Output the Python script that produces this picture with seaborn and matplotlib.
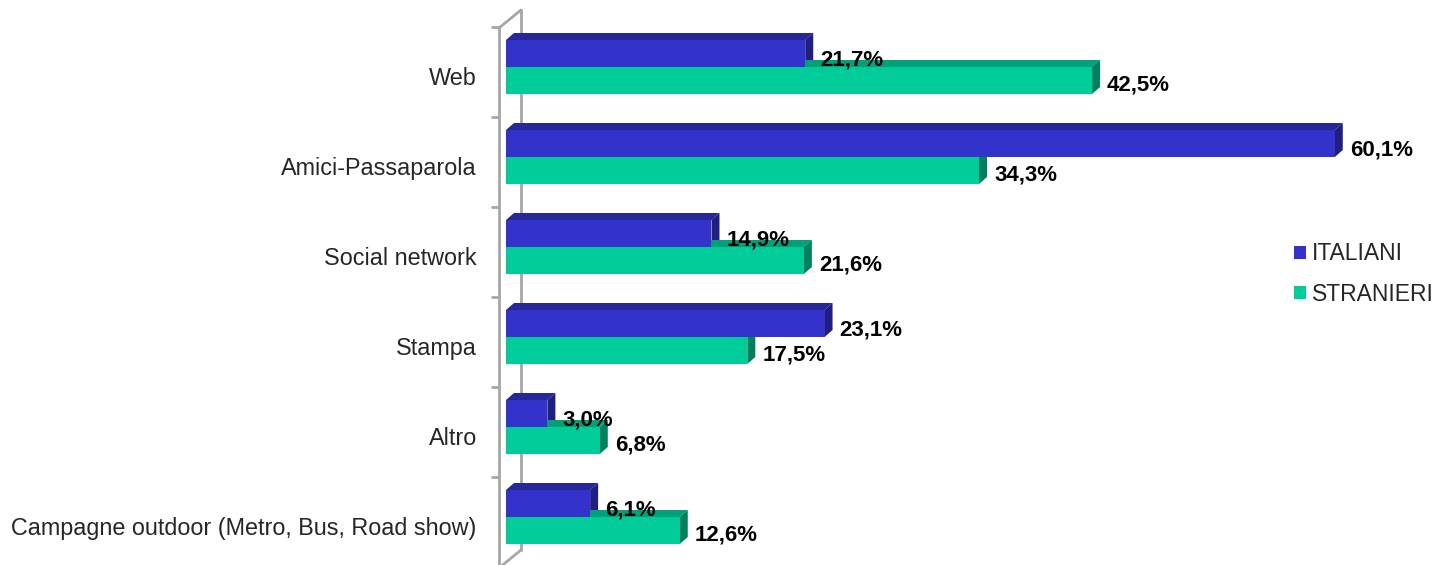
import numpy as np
import pandas as pd
import matplotlib
matplotlib.use("Agg")
import matplotlib.pyplot as plt
import matplotlib.transforms as mtransforms
from matplotlib.patches import Polygon, Patch
import seaborn as sns

# Data
categories = ["Web", "Amici-Passaparola", "Social network", "Stampa", "Altro",
              "Campagne outdoor (Metro, Bus, Road show)"]
groups = ["ITALIANI", "STRANIERI"]
italiani = [21.7, 60.1, 14.9, 23.1, 3.0, 6.1]
stranieri = [42.5, 34.3, 21.6, 17.5, 6.8, 12.6]

front_colors = ["#3333CC", "#00CC99"]
top_colors = ["#272799", "#00A07A"]
side_colors = ["#1F1F80", "#00805F"]

df = pd.DataFrame({
    "categoria": categories * 2,
    "gruppo": [groups[0]] * len(categories) + [groups[1]] * len(categories),
    "valore": italiani + stranieri,
})

sns.set_style("white")
plt.rcParams["font.family"] = ["Liberation Sans", "DejaVu Sans"]

W, H = 1438, 565
fig = plt.figure(figsize=(W / 100, H / 100), dpi=100)
ax = fig.add_axes([506 / W, 3 / H, (1420 - 506) / W, 540 / H])

sns.barplot(data=df, y="categoria", x="valore", hue="gruppo", orient="h",
            palette=front_colors, width=0.6, saturation=1, linewidth=0,
            legend=False, ax=ax)

ax.set_xlim(0, (1420 - 506) / 13.79)
ax.set_ylim(5.5, -0.5)

# pixel -> data helpers for the 3D depth
px_x = 1 / 13.79
px_y = 1 / 90.0
dx, dy = 8 * px_x, 7 * px_y

for i, cont in enumerate(ax.containers):
    for p in cont.patches:
        p.set_zorder(3)
        x0, y0, w, h = p.get_x(), p.get_y(), p.get_width(), p.get_height()
        top = Polygon([(x0, y0), (x0 + dx, y0 - dy), (x0 + w + dx, y0 - dy), (x0 + w, y0)],
                      closed=True, facecolor=top_colors[i], edgecolor="none", zorder=1)
        side = Polygon([(x0 + w, y0), (x0 + w + dx, y0 - dy), (x0 + w + dx, y0 + h - dy),
                        (x0 + w, y0 + h)],
                       closed=True, facecolor=side_colors[i], edgecolor="none", zorder=1)
        ax.add_patch(top)
        ax.add_patch(side)
        lab = f"{w:.1f}%".replace(".", ",")
        yoff = -4.5 if i == 0 else -3
        ax.annotate(lab, (x0 + w + dx, y0 + h / 2), xytext=(5, yoff),
                    textcoords="offset points", ha="left", va="center",
                    fontsize=16, fontweight="bold", color="black", zorder=5,
                    annotation_clip=False)

# 3D wall on the left
wall = "#A6A6A6"
fx, bx = -7 * px_x, 15 * px_x
ftop, btop = -0.5 + 6 * px_y, -0.5 - 12 * px_y
fbot, bbot = 5.5 + 6 * px_y, 5.5 - 12 * px_y
ax.plot([fx, fx], [ftop, fbot], color=wall, lw=2, clip_on=False, zorder=0)
ax.plot([bx, bx], [btop, bbot], color=wall, lw=2, clip_on=False, zorder=0)
ax.plot([fx, bx], [ftop, btop], color=wall, lw=2, clip_on=False, zorder=0)
ax.plot([fx, bx], [fbot, bbot], color=wall, lw=2, clip_on=False, zorder=0)
for k in range(len(categories)):
    yb = -0.5 + 5 * px_y + k
    ax.plot([fx - 7 * px_x, fx], [yb, yb], color=wall, lw=2, clip_on=False, zorder=0)

for s in ax.spines.values():
    s.set_visible(False)
ax.set_xticks([])
ax.set_xlabel("")
ax.set_ylabel("")
ax.tick_params(axis="y", length=0, pad=21, labelsize=16.8)
shift = mtransforms.ScaledTranslation(0, -9 / 100, fig.dpi_scale_trans)
for t in ax.get_yticklabels():
    t.set_transform(t.get_transform() + shift)

handles = [Patch(facecolor=c, edgecolor="none") for c in front_colors]
fig.legend(handles, groups, loc="center left",
           bbox_to_anchor=(1294 / W, 1 - 274 / H), frameon=False,
           fontsize=16.5, handlelength=0.52, handleheight=0.52,
           handletextpad=0.26, labelspacing=0.75, borderpad=0, borderaxespad=0)

fig.savefig("out.png", dpi=100)
